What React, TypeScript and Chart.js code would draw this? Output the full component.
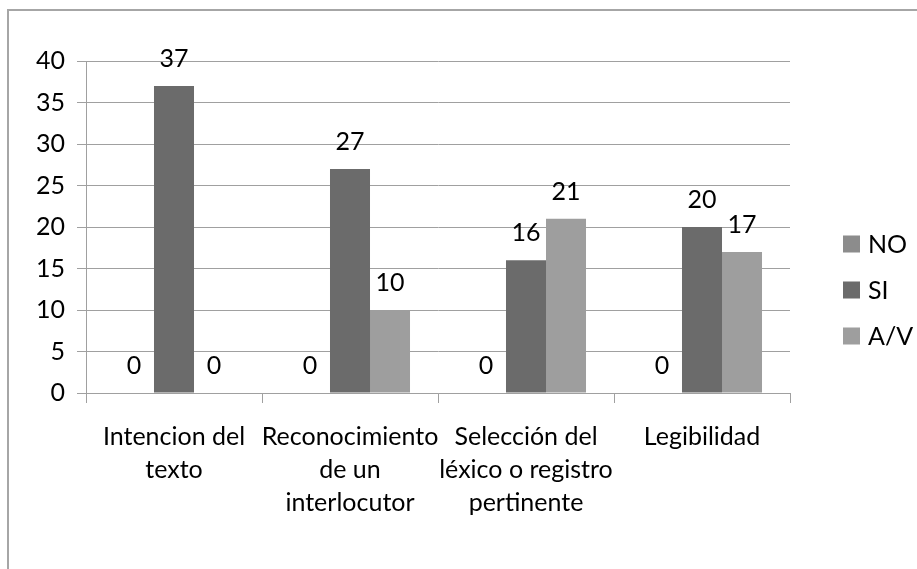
import React, { useEffect, useRef } from 'react';
import { Chart, registerables } from 'chart.js';

Chart.register(...registerables);

const categories: string[][] = [
  ['Intencion del', 'texto'],
  ['Reconocimiento', 'de un', 'interlocutor'],
  ['Selección del', 'léxico o registro', 'pertinente'],
  ['Legibilidad'],
];
const seriesNames = ['NO', 'SI', 'A/V'];
const noValues = [0, 0, 0, 0];
const siValues = [37, 27, 16, 20];
const avValues = [0, 10, 21, 17];
const seriesColors = ['#8c8c8c', '#6b6b6b', '#9e9e9e'];
const yMin = 0;
const yMax = 40;
const yStep = 5;

const FONT = 'Lato';
const FS = 25;
const GRID = '#a0a0a0';

const dataLabels = {
  id: 'dataLabels',
  afterDatasetsDraw(chart: any) {
    const ctx = chart.ctx;
    ctx.save();
    ctx.font = `${FS}px ${FONT}`;
    ctx.fillStyle = '#000';
    ctx.textAlign = 'center';
    ctx.textBaseline = 'alphabetic';
    chart.data.datasets.forEach((ds: any, i: number) => {
      const meta = chart.getDatasetMeta(i);
      meta.data.forEach((el: any, j: number) => {
        ctx.fillText(String(ds.data[j]), el.x, el.y - 19);
      });
    });
    ctx.restore();
  },
};

const sideLegend = {
  id: 'sideLegend',
  afterDraw(chart: any) {
    const ctx = chart.ctx;
    ctx.save();
    ctx.font = `${FS}px ${FONT}`;
    ctx.textAlign = 'left';
    ctx.textBaseline = 'middle';
    chart.data.datasets.forEach((ds: any, i: number) => {
      const cy = 244 + i * 46;
      ctx.fillStyle = ds.backgroundColor;
      ctx.fillRect(843, cy - 8.5, 17, 17);
      ctx.fillStyle = '#000';
      ctx.fillText(ds.label, 868, cy + 1);
    });
    ctx.restore();
  },
};

export default function App() {
  const ref = useRef<HTMLCanvasElement | null>(null);

  useEffect(() => {
    let chart: Chart | null = null;
    let cancelled = false;
    const make = () => {
      if (cancelled || !ref.current) return;
      chart = new Chart(ref.current, {
        type: 'bar',
        data: {
          labels: categories,
          datasets: [
            { label: seriesNames[0], data: noValues, backgroundColor: seriesColors[0] },
            { label: seriesNames[1], data: siValues, backgroundColor: seriesColors[1] },
            { label: seriesNames[2], data: avValues, backgroundColor: seriesColors[2] },
          ],
        },
        options: {
          animation: false,
          responsive: false,
          devicePixelRatio: 1,
          datasets: { bar: { barPercentage: 1, categoryPercentage: 0.682 } },
          layout: { padding: { left: 0, top: 61, right: 127, bottom: 0 } },
          plugins: { legend: { display: false }, tooltip: { enabled: false } },
          scales: {
            x: {
              afterFit: (s: any) => { s.height = 176; },
              grid: { display: true, drawOnChartArea: false, drawTicks: true, tickLength: 10, color: GRID, offset: true },
              border: { display: true, color: GRID },
              ticks: { color: '#000', font: { family: FONT, size: FS, lineHeight: 1.32 }, padding: 17, maxRotation: 0, autoSkip: false },
            },
            y: {
              min: yMin,
              max: yMax,
              afterFit: (s: any) => { s.width = 86; },
              grid: { color: GRID, tickLength: 9 },
              border: { display: true, color: GRID },
              ticks: { stepSize: yStep, color: '#000', font: { family: FONT, size: FS }, padding: 12 },
            },
          },
        },
        plugins: [dataLabels, sideLegend],
      });
    };
    const fonts: any = (document as any).fonts;
    if (fonts && fonts.load) {
      fonts.load(`${FS}px ${FONT}`).then(make, make);
    } else {
      make();
    }
    return () => {
      cancelled = true;
      if (chart) chart.destroy();
    };
  }, []);

  return (
    <div style={{ position: 'fixed', left: 0, top: 0, width: 917, height: 569, overflow: 'hidden', background: '#fff' }}>
      <div style={{ position: 'absolute', left: 7, top: 9, width: 1000, height: 1000, border: '2px solid #a6a6a6', boxSizing: 'border-box' }} />
      <canvas ref={ref} width={917} height={569} style={{ position: 'absolute', left: 0, top: 0, width: 917, height: 569 }} />
    </div>
  );
}
